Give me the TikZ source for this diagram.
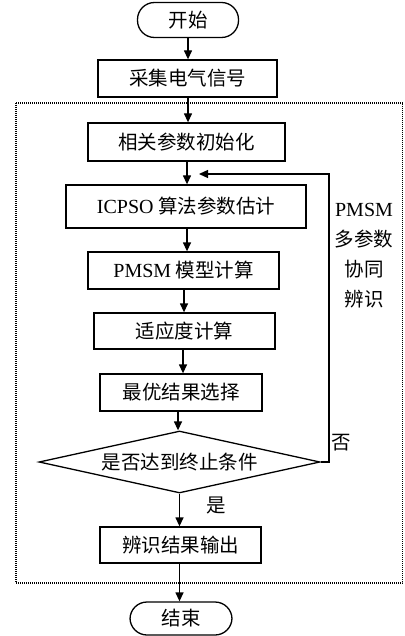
\documentclass[tikz,border=0pt]{standalone}
\usepackage{fontspec}
\setmainfont{Liberation Serif}
\newfontfamily\cjk{Noto Sans CJK SC}
\usetikzlibrary{shapes.geometric,arrows.meta}
\begin{document}
\begin{tikzpicture}[x=1pt,y=-1pt,
  every node/.style={font=\fontsize{19.5}{21}\selectfont\cjk},
  proc/.style={draw,line width=1.3pt,rectangle,inner sep=0pt,minimum height=37pt},
  term/.style={draw,line width=1.3pt,rectangle,rounded corners=17pt,inner sep=0pt,minimum height=35pt},
  dec/.style={draw,line width=1.3pt,diamond,shape aspect=4.5,inner sep=0pt,minimum width=281pt,minimum height=62pt},
  arr/.style={-{Triangle[length=9pt,width=8pt]},line width=1.3pt},
  lbl/.style={inner sep=0pt}]
\useasboundingbox (0,0) rectangle (404,636);
\draw[dotted,line width=1.1pt,dash pattern=on 1pt off 1pt] (16,103) rectangle (402.5,583);
\node[term,minimum width=101pt] (start) at (188,20) {开始};
\node[proc,minimum width=179pt] (collect) at (187.5,78.5) {采集电气信号};
\node[proc,minimum width=197pt,minimum height=38pt] (init) at (186.5,142) {相关参数初始化};
\node[proc,minimum width=240pt,minimum height=43pt] (icpso) at (186,206.5) {{\rmfamily\fontsize{20}{21}\selectfont ICPSO} 算法参数估计};
\node[proc,minimum width=191pt] (pmsm) at (183.5,270.5) {{\rmfamily\fontsize{20}{21}\selectfont PMSM} 模型计算};
\node[proc,minimum width=181pt,minimum height=36pt] (fit) at (184.5,331) {适应度计算};
\node[proc,minimum width=162pt] (best) at (181,392.5) {最优结果选择};
\node[dec] (cond) at (179.5,462) {是否达到终止条件};
\node[proc,minimum width=161pt,minimum height=36pt] (out) at (180.5,545) {辨识结果输出};
\node[term,minimum width=102pt,minimum height=33pt] (end) at (181,618.5) {结束};
\coordinate (fbc) at (329,174);
\coordinate (fb) at (199,174);
\draw[arr] (start.south -| 188,0) -- (collect.north -| 188,0);
\draw[arr] (collect.south -| 188,0) -- (init.north -| 188,0);
\draw[arr] (init.south -| 187,0) -- (icpso.north -| 187,0);
\draw[arr] (icpso.south -| 187,0) -- (pmsm.north -| 187,0);
\draw[arr] (pmsm.south -| 184,0) -- (fit.north -| 184,0);
\draw[arr] (fit.south -| 183,0) -- (best.north -| 183,0);
\draw[arr] (best.south -| 178,0) -- (cond.north -| 178,0);
\draw[arr] (cond.south) -- (out.north -| cond.south);
\draw[arr] (out.south -| cond.south) -- (end.north -| cond.south);
\draw[arr] (cond.east) -| (fbc) -- (fb);
\node[lbl] (no) at (341,443) {否};
\node[lbl] (yes) at (216,505) {是};
\node[lbl,align=center] (side) at (364,256) {{\rmfamily\fontsize{20}{21}\selectfont PMSM}\\[9pt]多参数\\[9pt]协同\\[9pt]辨识};
\end{tikzpicture}
\end{document}
